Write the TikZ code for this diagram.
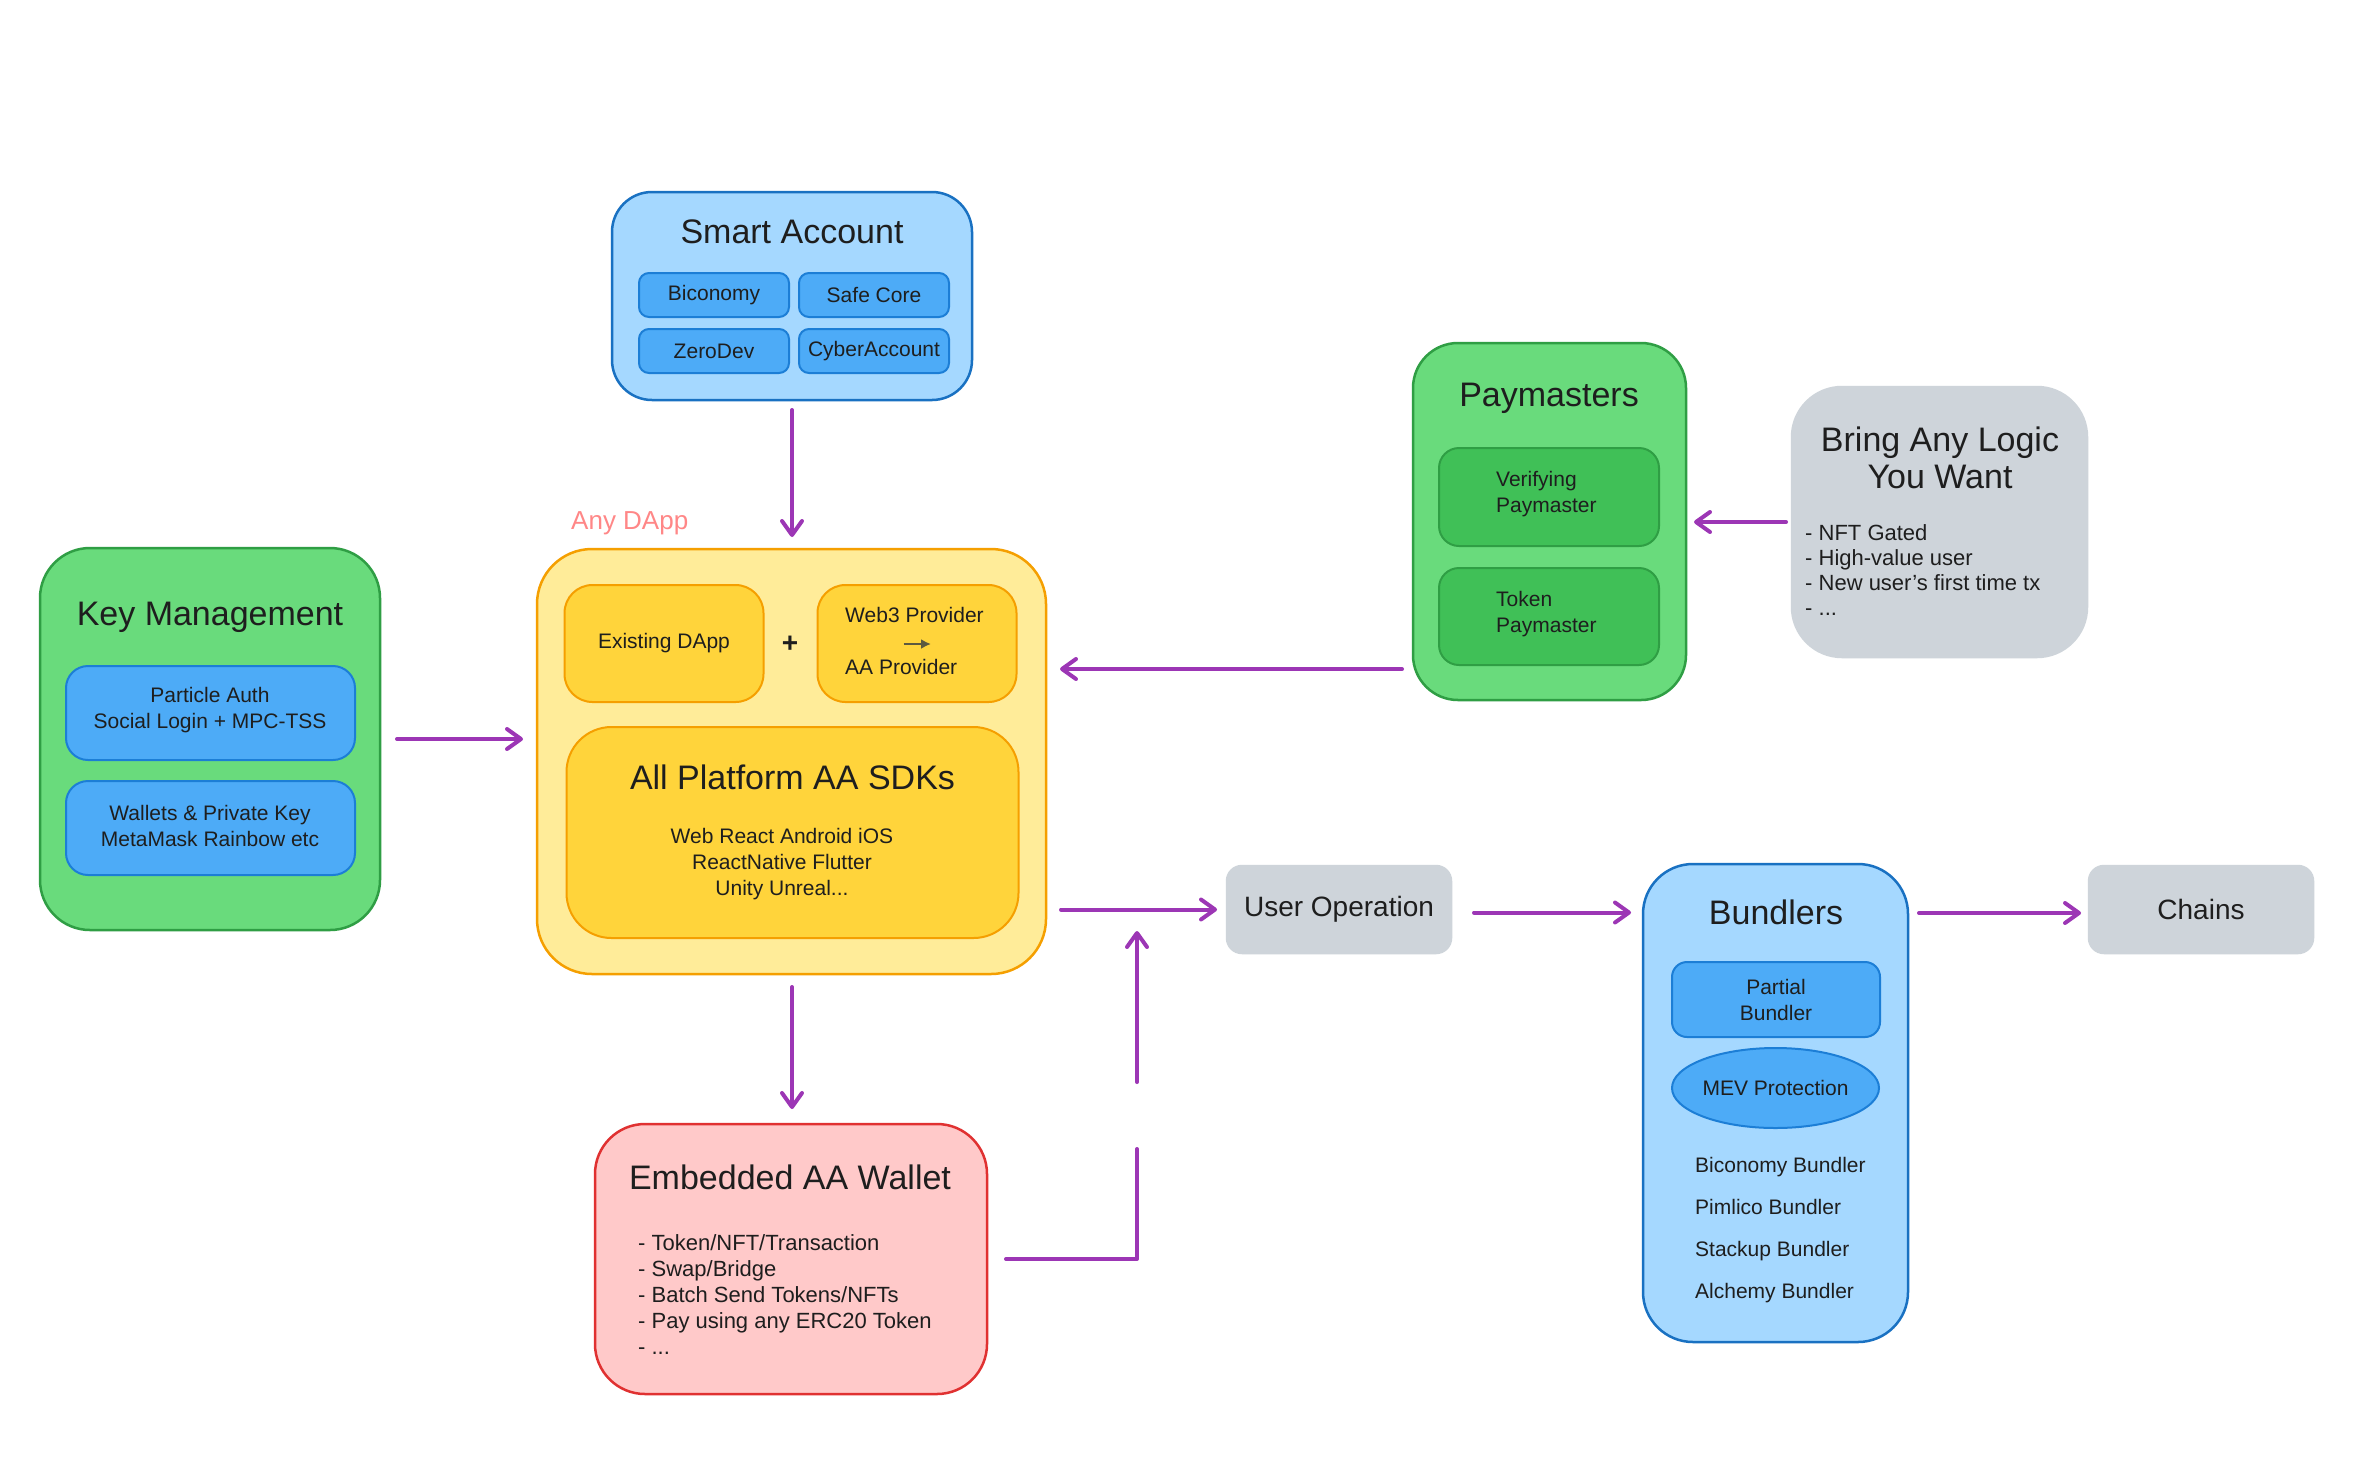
\documentclass[tikz,border=0pt]{standalone}
\usepackage{fontspec}
\setmainfont{Liberation Sans}
\usetikzlibrary{arrows.meta,shapes.geometric,calc}

\definecolor{blueL}{HTML}{A5D8FF}
\definecolor{blueS}{HTML}{1971C2}
\definecolor{blueM}{HTML}{4DABF7}
\definecolor{blueMS}{HTML}{1C7ED6}
\definecolor{greenL}{HTML}{69DB7C}
\definecolor{greenS}{HTML}{2F9E44}
\definecolor{greenM}{HTML}{40C057}
\definecolor{yelL}{HTML}{FFEC99}
\definecolor{yelM}{HTML}{FFD43B}
\definecolor{yelS}{HTML}{F59F00}
\definecolor{redL}{HTML}{FFC9C9}
\definecolor{redS}{HTML}{E03131}
\definecolor{grayL}{HTML}{CED4DA}
\definecolor{purp}{HTML}{9C36B5}
\definecolor{salmon}{HTML}{FF8787}
\definecolor{ink}{HTML}{1E1E1E}
\definecolor{olive}{HTML}{5C5940}

\newcommand\fbig{\fontsize{34}{40}\selectfont}
\newcommand\fmid{\fontsize{28}{34}\selectfont}
\newcommand\fsm{\fontsize{21}{26}\selectfont}
\newcommand\fbul{\fontsize{22}{26.2}\selectfont}

\begin{document}
\begin{tikzpicture}[x=1pt,y=-1pt,
  frame/.style={draw, line width=2.5pt, inner sep=0pt, outer sep=0pt},
  subframe/.style={draw, line width=2pt, inner sep=0pt, outer sep=0pt},
  lbl/.style={text=ink, inner sep=0pt},
  arr/.style={draw=purp, line width=4pt, line cap=round,
    -{Straight Barb[length=14pt,width=20pt,line width=4pt,round]}},
  seg/.style={draw=purp, line width=4pt, line cap=round, line join=round}
]
\useasboundingbox (0,0) rectangle (2355,1460);
\fill[white] (0,0) rectangle (2355,1460);

% ---------- Smart Account ----------
\node[frame, fill=blueL, draw=blueS, rounded corners=40pt,
  minimum width=360pt, minimum height=208pt] (SA) at (792,296) {};
\node[lbl, font=\fbig] (SAt) at (792,232) {Smart Account};
\node[subframe, fill=blueM, draw=blueMS, rounded corners=10pt,
  minimum width=150pt, minimum height=44pt, font=\fsm, text=ink] (sa1) at (714,295) {Biconomy};
\node[subframe, fill=blueM, draw=blueMS, rounded corners=10pt,
  minimum width=150pt, minimum height=44pt, font=\fsm, text=ink] (sa2) at (874,295) {Safe Core};
\node[subframe, fill=blueM, draw=blueMS, rounded corners=10pt,
  minimum width=150pt, minimum height=44pt, font=\fsm, text=ink] (sa3) at (714,351) {ZeroDev};
\node[subframe, fill=blueM, draw=blueMS, rounded corners=10pt,
  minimum width=150pt, minimum height=44pt, font=\fsm, text=ink] (sa4) at (874,351) {CyberAccount};

% ---------- Key Management ----------
\node[frame, fill=greenL, draw=greenS, rounded corners=50pt,
  minimum width=340pt, minimum height=382pt] (KM) at (210,739) {};
\node[lbl, font=\fbig] (KMt) at (210,617) {Key Management};
\node[subframe, fill=blueM, draw=blueMS, rounded corners=22pt,
  minimum width=289pt, minimum height=94pt] (km1) at (210.5,713) {};
\node[lbl, font=\fsm, align=center] (km1t) at (210,710) {Particle Auth\\Social Login + MPC-TSS};
\node[subframe, fill=blueM, draw=blueMS, rounded corners=22pt,
  minimum width=289pt, minimum height=94pt] (km2) at (210.5,828) {};
\node[lbl, font=\fsm, align=center] (km2t) at (210,825.5) {Wallets \& Private Key\\MetaMask Rainbow etc};

% ---------- Any DApp ----------
\node[lbl, text=salmon, font=\fontsize{26}{30}\selectfont, anchor=west] (anyd) at (571,523) {Any DApp};
\node[frame, fill=yelL, draw=yelS, rounded corners=55pt,
  minimum width=509pt, minimum height=425pt] (DApp) at (791.5,761.5) {};
\node[subframe, fill=yelM, draw=yelS, rounded corners=28pt,
  minimum width=199pt, minimum height=117pt, font=\fsm, text=ink] (ex) at (664,643.5) {Existing DApp};
\node[lbl, font=\bfseries\fmid] (plus) at (790,644) {+};
\node[subframe, fill=yelM, draw=yelS, rounded corners=28pt,
  minimum width=199pt, minimum height=117pt] (w3) at (917,643.5) {};
\node[lbl, font=\fsm, anchor=west] (w3a) at (845,615) {Web3 Provider};
\node[lbl, font=\fsm, anchor=west] (w3b) at (845,667) {AA Provider};
\coordinate (pa) at (903.5,644);
\coordinate (pb) at (931,644);
\draw[olive, line width=2pt, -{Latex[length=10pt,width=10pt]}] (pa) -- (pb);
\node[subframe, fill=yelM, draw=yelS, rounded corners=45pt,
  minimum width=452pt, minimum height=211pt] (sdk) at (792.5,832.5) {};
\node[lbl, font=\fbig] (sdkt) at (792.5,777) {All Platform AA SDKs};
\node[lbl, font=\fsm, align=center] (sdkl) at (782,864)
  {Web React Android iOS\\ReactNative Flutter\\Unity Unreal...};

% ---------- Paymasters ----------
\node[frame, fill=greenL, draw=greenS, rounded corners=45pt,
  minimum width=273pt, minimum height=357pt] (Pay) at (1549.5,521.5) {};
\node[lbl, font=\fbig] (Payt) at (1549,398) {Paymasters};
\node[subframe, fill=greenM, draw=greenS, rounded corners=20pt,
  minimum width=220pt, minimum height=98pt] (pv) at (1549,497) {};
\node[lbl, font=\fsm, anchor=west, align=left] (pvt) at (1496,494.5) {Verifying\\Paymaster};
\node[subframe, fill=greenM, draw=greenS, rounded corners=20pt,
  minimum width=220pt, minimum height=97pt] (pt) at (1549,616.5) {};
\node[lbl, font=\fsm, anchor=west, align=left] (ptt) at (1496,614.5) {Token\\Paymaster};

% ---------- Bring Any Logic ----------
\node[frame, fill=grayL, draw=grayL, rounded corners=50pt,
  minimum width=295pt, minimum height=270pt] (Br) at (1939.5,522) {};
\node[lbl, font=\fontsize{34}{37}\selectfont, align=center] (Brt) at (1940,458) {Bring Any Logic\\You Want};
\node[lbl, font=\fontsize{22}{25.3}\selectfont, anchor=west, align=left] (Brl) at (1805,570)
  {- NFT Gated\\- High-value user\\- New user's first time tx\\- ...};

% ---------- Embedded AA Wallet ----------
\node[frame, fill=redL, draw=redS, rounded corners=50pt,
  minimum width=392pt, minimum height=270pt] (Emb) at (791,1259) {};
\node[lbl, font=\fbig] (Embt) at (790,1177) {Embedded AA Wallet};
\node[lbl, font=\fbul, anchor=west, align=left] (Embl) at (638,1294.5)
  {- Token/NFT/Transaction\\- Swap/Bridge\\- Batch Send Tokens/NFTs\\- Pay using any ERC20 Token\\- ...};

% ---------- User Operation ----------
\node[frame, fill=grayL, draw=grayL, rounded corners=15pt,
  minimum width=224pt, minimum height=87pt, font=\fmid, text=ink] (UO) at (1339,909.5) {User Operation};

% ---------- Bundlers ----------
\node[frame, fill=blueL, draw=blueS, rounded corners=50pt,
  minimum width=265pt, minimum height=478pt] (Bun) at (1775.5,1103) {};
\node[lbl, font=\fbig] (Bunt) at (1776,912) {Bundlers};
\node[subframe, fill=blueM, draw=blueMS, rounded corners=15pt,
  minimum width=208pt, minimum height=75pt, font=\fsm, text=ink, align=center] (pbund) at (1776,999.5) {Partial\\Bundler};
\node[ellipse, subframe, fill=blueM, draw=blueMS,
  minimum width=207pt, minimum height=80pt, font=\fsm, text=ink] (mev) at (1775.5,1088) {MEV Protection};
\node[lbl, font=\fontsize{21}{42}\selectfont, anchor=west, align=left] (bl) at (1695,1230)
  {Biconomy Bundler\\Pimlico Bundler\\Stackup Bundler\\Alchemy Bundler};

% ---------- Chains ----------
\node[frame, fill=grayL, draw=grayL, rounded corners=15pt,
  minimum width=224pt, minimum height=87pt, font=\fmid, text=ink] (Ch) at (2201,909.5) {Chains};

% ---------- Connectors ----------
\draw[arr, shorten <=10pt, shorten >=12pt] (SA.south) -- (SA.south |- DApp.north);
\draw[arr, shorten <=17pt, shorten >=14pt] (KM.east) -- (KM.east -| DApp.west);
\draw[arr, shorten <=11pt, shorten >=14pt] ([yshift=-147.5pt]Pay.west) -- ([yshift=-147.5pt]Pay.west -| DApp.east);
\draw[arr, shorten <=6pt, shorten >=8pt] (Br.west) -- (Br.west -| Pay.east);
\draw[arr, shorten <=15pt, shorten >=10pt] (DApp.east |- UO.west) -- (UO.west);
\draw[arr, shorten <=23pt, shorten >=12pt] ([yshift=-3pt]UO.east) -- ([yshift=-3pt]UO.east -| Bun.west);
\draw[arr, shorten <=11pt, shorten >=8pt] ([yshift=-3.5pt]Ch.west -| Bun.east) -- ([yshift=-3.5pt]Ch.west);
\draw[arr, shorten <=13pt, shorten >=15pt] (SA.south |- DApp.south) -- (SA.south |- Emb.north);
\coordinate (e1) at (1137,1259);
\coordinate (e2) at (1137,1149);
\coordinate (e3) at (1137,1082);
\coordinate (e4) at (1137,931);
\draw[seg, shorten <=19pt] (Emb.east) -- (e1) -- (e2);
\draw[arr] (e3) -- (e4);
\end{tikzpicture}
\end{document}
